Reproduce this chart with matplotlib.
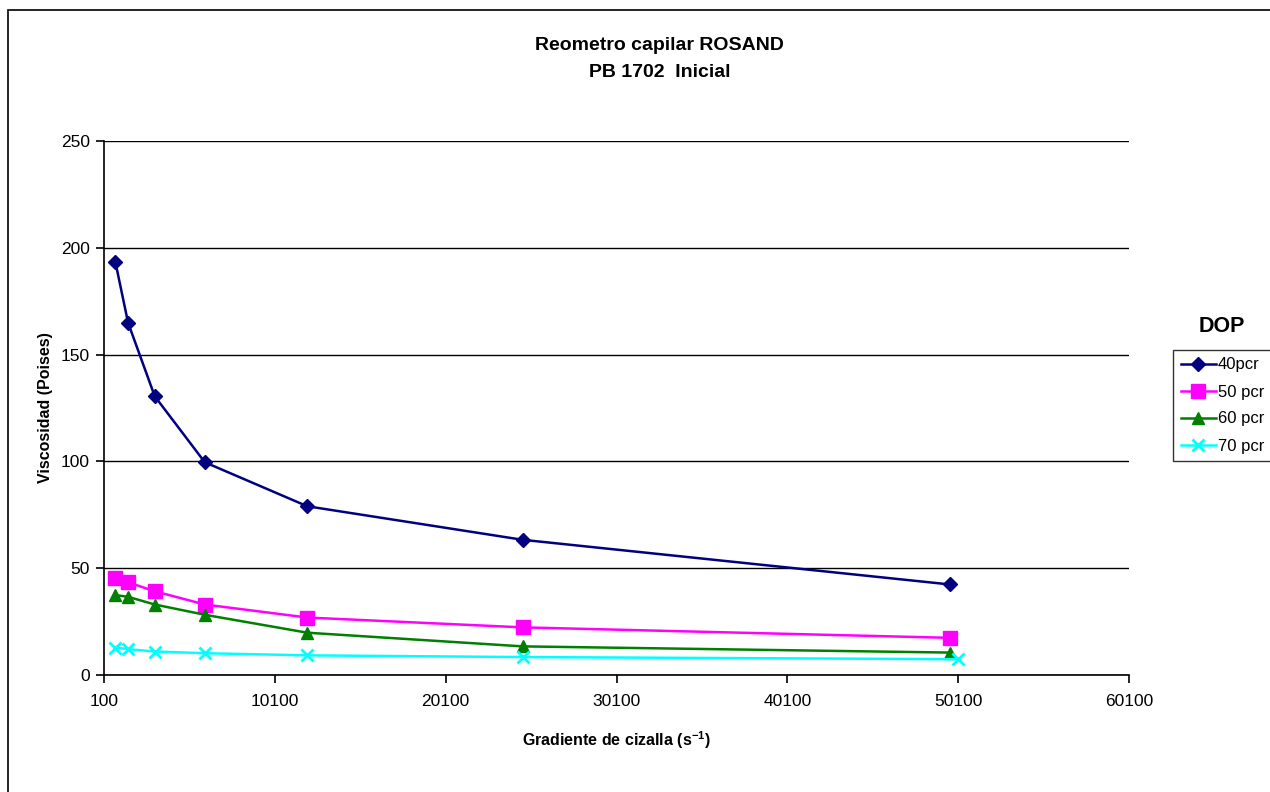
import matplotlib

matplotlib.use("Agg")
import matplotlib.pyplot as plt
from matplotlib.patches import Rectangle

plt.rcParams["font.family"] = ["Liberation Sans", "DejaVu Sans"]
plt.rcParams["mathtext.fontset"] = "custom"
plt.rcParams["mathtext.rm"] = "Liberation Sans:bold"
plt.rcParams["mathtext.bf"] = "Liberation Sans:bold"

# Datos
gradiente = [770, 1510, 3070, 6000, 12000, 24600, 49600]
gradiente_70 = [770, 1510, 3070, 6000, 12000, 24600, 50100]
visc_40 = [193.2, 164.9, 130.5, 99.6, 79.0, 63.3, 42.4]
visc_50 = [45.3, 43.4, 39.2, 33.0, 26.9, 22.3, 17.4]
visc_60 = [37.4, 36.6, 33.0, 28.2, 19.8, 13.4, 10.5]
visc_70 = [12.8, 12.1, 11.0, 10.2, 9.2, 8.4, 7.4]

series = [
    ("40pcr", gradiente, visc_40, "#000080", "D", 7, 1.0),
    ("50 pcr", gradiente, visc_50, "#FF00FF", "s", 9.5, 1.0),
    ("60 pcr", gradiente, visc_60, "#008000", "^", 8, 1.0),
    ("70 pcr", gradiente_70, visc_70, "#00FFFF", "x", 9, 2.0),
]

fig = plt.figure(figsize=(12.7, 7.92), dpi=100)
ax = fig.add_axes([104 / 1270, 117 / 792, (1129 - 104) / 1270, (675 - 141) / 792])

handles = []
for label, xs, ys, color, marker, ms, mew in series:
    (h,) = ax.plot(xs, ys, color=color, marker=marker, markersize=ms,
                   markeredgewidth=mew, linewidth=1.8, label=label,
                   markeredgecolor=color, markerfacecolor=color, zorder=3)
    handles.append(h)

ax.set_xlim(100, 60100)
ax.set_ylim(0, 250)
ax.set_xticks(range(100, 60101, 10000))
ax.set_xticklabels([str(v) for v in range(100, 60101, 10000)])
ax.set_yticks(range(0, 251, 50))
ax.yaxis.grid(True, color="#000000", linewidth=1.0)
ax.set_axisbelow(True)
for s in ["top", "right"]:
    ax.spines[s].set_visible(False)
for s in ["left", "bottom"]:
    ax.spines[s].set_linewidth(1.2)
ax.tick_params(axis="both", labelsize=12.5, length=6, width=1.2, direction="out")
ax.tick_params(axis="x", pad=8)
ax.tick_params(axis="y", pad=4)

ax.set_xlabel(r"Gradiente de cizalla (s$^{-1}$)", fontsize=11.5,
              fontweight="bold", labelpad=14)
ax.set_ylabel("Viscosidad (Poises)", fontsize=11.5, fontweight="bold",
              labelpad=6)

fig.text(0.5195, 0.942, "Reometro capilar ROSAND", ha="center", va="center",
         fontsize=14, fontweight="bold")
fig.text(0.5195, 0.909, "PB 1702  Inicial", ha="center", va="center",
         fontsize=14, fontweight="bold")

fig.text(1222 / 1270, 1 - 327 / 792, "DOP", ha="center", va="center",
         fontsize=15.5, fontweight="bold")
leg = fig.legend(handles=handles, loc="upper left",
                 bbox_to_anchor=(1173 / 1270, 1 - 350 / 792),
                 frameon=True, fancybox=False, fontsize=12,
                 handlelength=2.1, handletextpad=0.15, labelspacing=0.72,
                 borderpad=0.45, borderaxespad=0)
leg.get_frame().set_edgecolor("black")
leg.get_frame().set_linewidth(1.0)

# Marco exterior del gráfico
fig.patches.append(Rectangle((8 / 1270, -0.1), 1.2, 1 - 10 / 792 + 0.1,
                             transform=fig.transFigure, fill=False,
                             edgecolor="black", linewidth=1.2))

plt.savefig("out.png", dpi=100)
